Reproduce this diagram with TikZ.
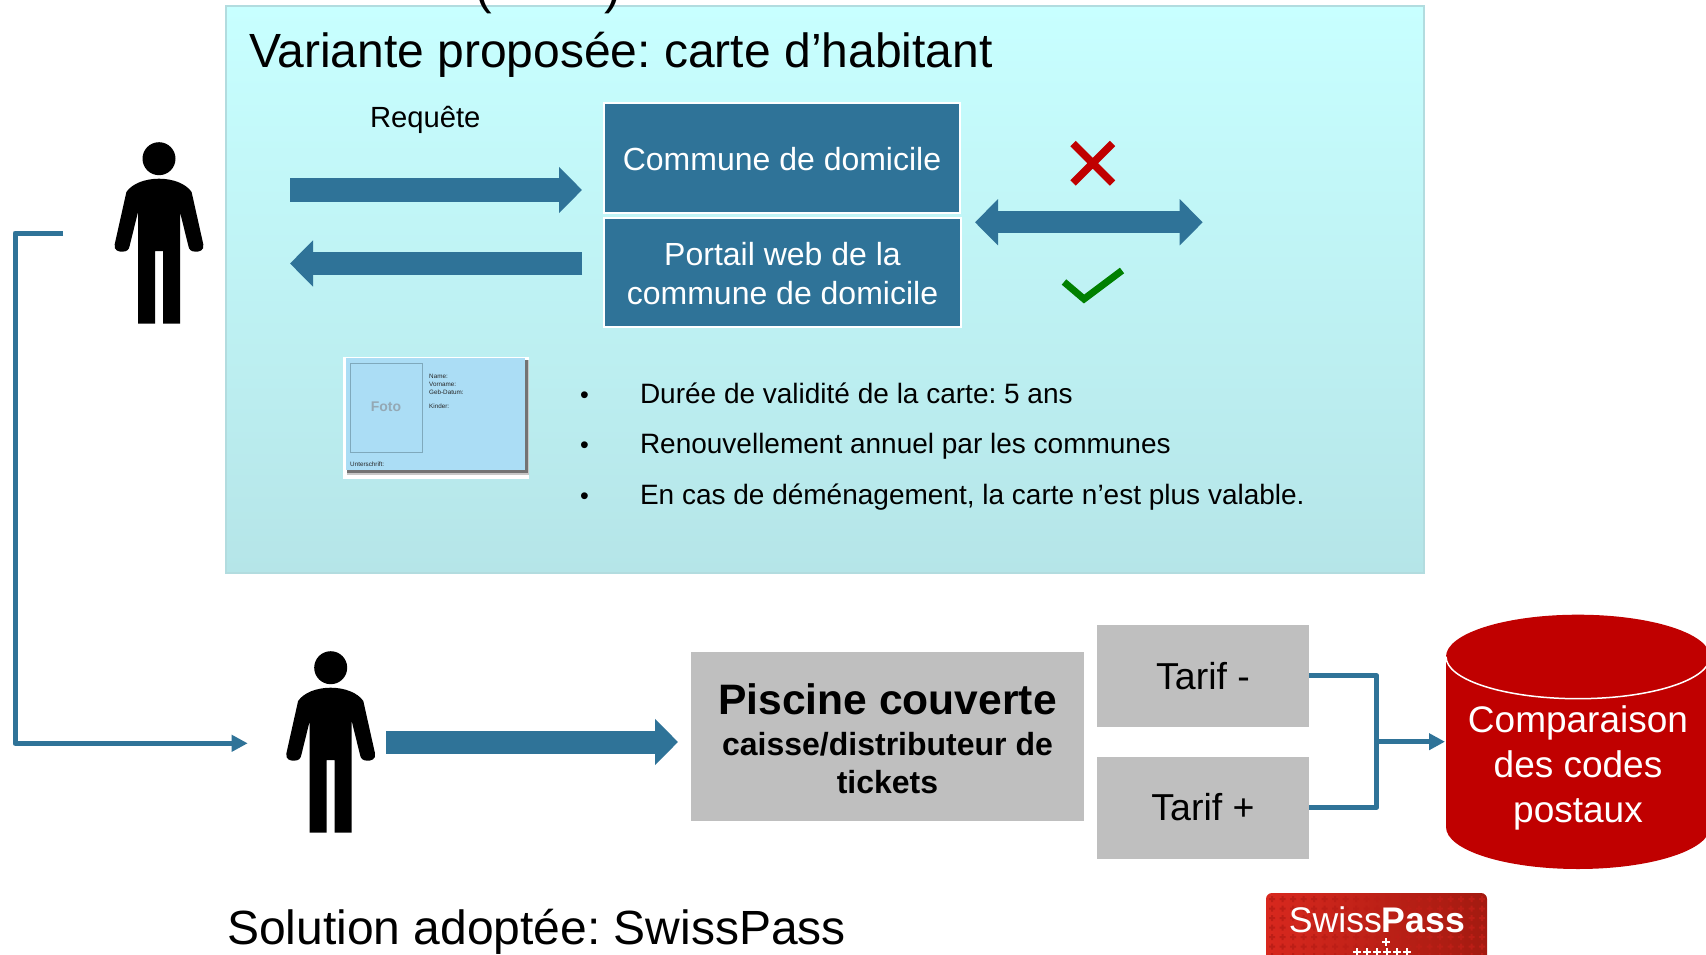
\documentclass[tikz,border=0pt]{standalone}
\usepackage{fontspec}
\setmainfont{Liberation Sans}
\usetikzlibrary{arrows.meta,shapes.geometric}
\AtBeginDocument{\frenchspacing}
\definecolor{blu}{HTML}{2F7398}
\definecolor{linec}{HTML}{2F7398}
\definecolor{redc}{HTML}{C00000}
\definecolor{grayc}{HTML}{BFBFBF}
\definecolor{paneltop}{HTML}{C8FFFF}
\definecolor{panelbot}{HTML}{B5E5E8}
\definecolor{panelline}{HTML}{B2DCDF}
\definecolor{greenc}{HTML}{008000}
\definecolor{cardblue}{HTML}{ABDDF5}
\definecolor{cardline}{HTML}{7FA9BC}
\definecolor{fototxt}{HTML}{94A8B4}
\definecolor{logoL}{HTML}{D8281E}
\definecolor{logoR}{HTML}{A31A10}
\definecolor{logoD}{HTML}{BC1E16}
\newcommand{\fs}[2]{\fontsize{#1}{#2}\selectfont}
\newcommand{\dn}[1]{\raisebox{-1.2pt}[\height][\depth]{#1}}
\tikzset{
  x=1pt,y=-1pt,
  txt/.style={inner sep=0,outer sep=0,anchor=base west,text=black},
  bluebox/.style={draw=white,line width=2pt,fill=blu,text=white,align=center,inner sep=0,font=\fs{32}{39}},
  graybox/.style={fill=grayc,text=black,align=center,inner sep=0},
  blockR/.style={draw=blu,line width=23pt,-{Triangle[length=23pt,width=45pt,sep=0pt]}},
  blockB/.style={draw=blu,line width=22pt,{Triangle[length=23pt,width=45pt]}-{Triangle[length=23pt,width=45pt]}},
  conn/.style={draw=linec,line width=5pt,line join=round},
  tip/.style={-{Triangle[length=16pt,width=16pt]}},
  bul/.style={txt,font=\fs{28}{32}},
  cardt/.style={inner sep=0,anchor=base west,text=black!85,font=\fs{6.3}{7}},
  person/.pic={
    \fill[black] (0,0) ellipse (16.5 and 16.5);
    \fill[black] (0,20) .. controls (14,20) and (27,25) .. (32.6,33.3)
      -- (44.3,85.6) .. controls (45.5,92) and (40,93) .. (37,93)
      .. controls (32,93) and (30,91) .. (29.3,87)
      -- (21,53.3) -- (21,165) -- (4,165) -- (4,92.3) -- (-4,92.3) -- (-4,165) -- (-21,165) -- (-21,53.3)
      -- (-29.3,87) .. controls (-30,91) and (-32,93) .. (-37,93)
      .. controls (-40,93) and (-45.5,92) .. (-44.3,85.6)
      -- (-32.6,33.3) .. controls (-27,25) and (-14,20) .. (0,20) -- cycle;
  }
}
\begin{document}
\begin{tikzpicture}
\useasboundingbox (0,0) rectangle (1706,955);
\clip (0,0) rectangle (1706,955);
\fill[white] (0,0) rectangle (1706,955);

% panel
\shade[top color=paneltop,bottom color=panelbot] (226,6) rectangle (1424,573);
\draw[draw=panelline,line width=1.5pt] (226,6) rectangle (1424,573);

\node[txt,font=\fs{50}{54}] (parL) at (475,4) {(};
\node[txt,font=\fs{50}{54}] (parR) at (604,4) {)};

\node[txt,font=\fs{48}{52}] (title) at (249,67.5) {Variante proposée: carte d’habitant};
\node[txt,font=\fs{29.2}{34}] (req) at (370,127.5) {Requête};

% boxes
\node[bluebox,minimum width=356pt,minimum height=109pt] (commune) at (782,158) {\dn{Commune de domicile}};
\node[bluebox,minimum width=357pt,minimum height=109pt] (portail) at (782.5,272) {\dn{Portail web de la}\\\dn{commune de domicile}};

% arrows
\coordinate (a1s) at (290,190);
\coordinate (a1e) at (582,190);
\coordinate (a2s) at (582,263.5);
\coordinate (a2e) at (290,263.5);
\draw[blockR] (a1s) -- (a1e);
\draw[blockR] (a2s) -- (a2e);
\coordinate (a3s) at (975,222.3);
\coordinate (a3e) at (1202.7,222.3);
\draw[blockB] (a3s) -- (a3e);

% cross & check
\coordinate (x1) at (1073,143.5);
\coordinate (x2) at (1112.5,183);
\coordinate (x3) at (1112.5,143.5);
\coordinate (x4) at (1073,183);
\draw[redc,line width=7.5pt] (x1) -- (x2) (x3) -- (x4);
\coordinate (c1) at (1064,282);
\coordinate (c2) at (1084,299);
\coordinate (c3) at (1122,270.5);
\draw[greenc,line width=7pt,miter limit=10] (c1) -- (c2) -- (c3);

% persons
\pic at (159,158.7) {person};
\pic at (330.7,667.7) {person};

% card
\fill[white] (342.7,357.3) rectangle (529.3,479);
\fill[black!22] (347,360) rectangle (528.5,474.5);
\fill[black!55] (347,360) rectangle (527.5,473);
\fill[cardblue] (345.7,358) rectangle (525,470);
\node[draw=cardline,line width=1pt,minimum width=72pt,minimum height=88.6pt,inner sep=0] (fotobox) at (386,408) {};
\node[inner sep=0,text=fototxt,font=\bfseries\fs{14}{16}] (foto) at (386,406.7) {Foto};
\node[cardt] (n1) at (429,378) {Name:};
\node[cardt] (n2) at (429,386) {Vorname:};
\node[cardt] (n3) at (429,394) {Geb-Datum:};
\node[cardt] (n4) at (429,408) {Kinder:};
\node[cardt] (n5) at (350,466) {Unterschrift:};

% bullets
\node[txt,font=\fs{25}{32}] (b1d) at (580,403) {•};
\node[txt,font=\fs{25}{32}] (b2d) at (580,453) {•};
\node[txt,font=\fs{25}{32}] (b3d) at (580,504) {•};
\node[bul] (b1) at (640,403) {Durée de validité de la carte: 5 ans};
\node[bul] (b2) at (640,453) {Renouvellement annuel par les communes};
\node[bul] (b3) at (640,504) {En cas de déménagement, la carte n’est plus valable.};

% lower row
\coordinate (l0) at (63,233);
\coordinate (l1) at (247.7,743.3);
\draw[conn,tip] (l0) -- (15,233) |- (l1);
\coordinate (a4s) at (386,742);
\coordinate (a4e) at (678,742);
\draw[blockR] (a4s) -- (a4e);

\node[graybox,minimum width=393pt,minimum height=169pt] (piscine) at (887.5,736.5) {};
\node[inner sep=0,font=\bfseries\fs{42.6}{48}] (pt1) at (887.5,699) {Piscine couverte};
\node[inner sep=0,align=center,font=\bfseries\fs{32}{38}] (pt2) at (887.5,763) {caisse/distributeur de\\tickets};

\node[graybox,minimum width=212pt,minimum height=102pt,font=\fs{37.5}{42}] (tm) at (1203,676) {Tarif -};
\node[graybox,minimum width=212pt,minimum height=102pt,font=\fs{37.5}{42}] (tp) at (1203,808) {\raisebox{1.5pt}{Tarif +}};

% cylinder
\fill[redc] (1446,656.7) arc[start angle=180,end angle=360,x radius=132,y radius=42]
  -- (1710,827) arc[start angle=0,end angle=180,x radius=132,y radius=42] -- cycle;
\draw[white,line width=1.5pt] (1446,656.7) arc[start angle=180,end angle=0,x radius=132,y radius=42];
\node[inner sep=0,align=center,text=white,font=\fs{37}{45}] (cyl) at (1578,768) {Comparaison\\des codes\\postaux};

\coordinate (j1) at (1376.7,675.7);
\coordinate (j2) at (1376.7,807.3);
\coordinate (j3) at (1376.7,741.7);
\coordinate (cylin) at (1445,741.7);
\draw[conn] (tm.east |- j1) -- (j1) -- (j2) -- (tp.east |- j2);
\draw[conn,tip] (j3) -- (cylin);

% bottom
\node[txt,font=\fs{48}{52}] (sol) at (227,944) {Solution adoptée: SwissPass};

% logo
\begin{scope}
\clip[rounded corners=6pt] (1266,893) rectangle (1487,975);
\shade[left color=logoL,right color=logoR] (1266,893) rectangle (1487,975);
\foreach \i in {0,...,21} \foreach \j in {0,...,6}
  \fill[logoD] ({1272+\i*10.5-3},{899+\j*9.5-1}) rectangle ++(6,2)
               ({1272+\i*10.5-1},{899+\j*9.5-3}) rectangle ++(2,6);
\end{scope}
\node[inner sep=0,text=white,font=\fs{35.6}{40}] (logo) at (1377,920) {Swiss\textbf{Pass}};
\foreach \p in {(1386,942),(1357,952),(1367,952),(1377,952),(1387,952),(1397,952),(1407,952)}
  \draw[white,line width=2pt] \p ++(-4,0) -- ++(8,0) \p ++(0,-4) -- ++(0,8);
\end{tikzpicture}
\end{document}
